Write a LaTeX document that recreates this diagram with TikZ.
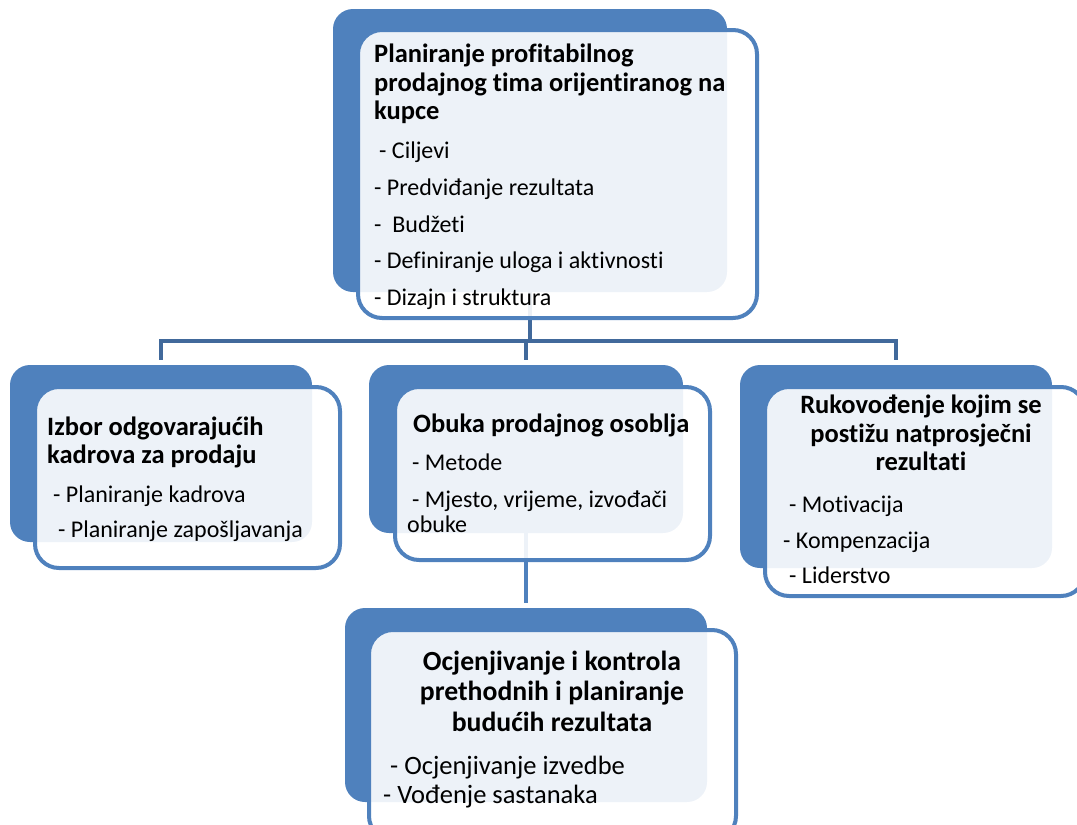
\documentclass[tikz,border=0pt]{standalone}
\usepackage{fontspec}
\setmainfont{Carlito}[Ligatures=NoCommon]
\usetikzlibrary{positioning}
\definecolor{b1}{HTML}{4F81BD}
\definecolor{b2}{HTML}{41699B}
\tikzstyle{back}=[fill=b1,rounded corners=20pt,inner sep=0pt]
\tikzstyle{front}=[draw=b1,line width=4pt,fill=white,fill opacity=0.9,rounded corners=24pt,inner sep=0pt]
\tikzstyle{link}=[b2,line width=4pt]
\tikzstyle{head}=[font=\fontsize{26.5}{30}\selectfont\bfseries,inner sep=0pt]
\tikzstyle{item}=[font=\fontsize{24}{25}\selectfont,inner sep=0pt,anchor=base west]
\tikzstyle{big head}=[head,font=\fontsize{27.7}{30}\selectfont\bfseries]
\tikzstyle{big item}=[item,font=\fontsize{26.5}{30}\selectfont]

\begin{document}
\begin{tikzpicture}[x=1pt,y=-1pt]
  \useasboundingbox (0,0) rectangle (1077,825);
  \clip (0,0) rectangle (1077,825);
  % back panels
  \node[back,minimum width=394pt,minimum height=283pt] (planB) at (530,150.5) {};
  \node[back,minimum width=302pt,minimum height=177pt] (izborB) at (161,453.5) {};
  \node[back,minimum width=314pt,minimum height=168pt] (obukaB) at (526,449) {};
  \node[back,minimum width=312pt,minimum height=203pt] (rukB) at (896,466.5) {};
  \node[back,minimum width=362pt,minimum height=194pt] (ocjB) at (526,705) {};
  % tree lines
  \coordinate (bus) at (526,341);
  \draw[link] (planB.south) -- (planB.south |- bus);
  \draw[link] ([yshift=5pt]izborB.north) |- (bus) -| ([yshift=5pt]rukB.north);
  \draw[link] ([yshift=5pt]obukaB.north) -- (obukaB.north |- bus);
  \draw[link,b1] (obukaB.south) -- ([yshift=5pt]ocjB.north);
  % front panels
  \node[front,minimum width=399pt,minimum height=288pt] (planF) at (557.5,174) {};
  \node[front,minimum width=305pt,minimum height=181pt] (izborF) at (187.5,477.5) {};
  \node[front,minimum width=315pt,minimum height=173pt] (obukaF) at (552.5,473.5) {};
  \node[front,minimum width=320pt,minimum height=209pt] (rukF) at (925,491.5) {};
  \node[front,minimum width=367pt,minimum height=210pt] (ocjF) at (552.5,735) {};
  % texts
  \node[head,anchor=base west] (plan1) at (374,62) {Planiranje profitabilnog};
  \node[head,anchor=base west] (plan2) at (374,91) {prodajnog tima orijentiranog na};
  \node[head,anchor=base west] (plan3) at (374,119) {kupce};
  \node[item] (planA) at (379,158) {- Ciljevi};
  \node[item] (planB2) at (374,195) {- Predviđanje rezultata};
  \node[item] (planC) at (374,232) {-~ Budžeti};
  \node[item] (planD) at (374,268) {- Definiranje uloga i aktivnosti};
  \node[item] (planE) at (374,305) {- Dizajn i struktura};

  \node[head,anchor=base west] (izbor1) at (47,435) {Izbor odgovarajućih};
  \node[head,anchor=base west] (izbor2) at (47,463) {kadrova za prodaju};
  \node[item] (izborA) at (53,502) {- Planiranje kadrova};
  \node[item] (izborB2) at (58,537) {- Planiranje zapošljavanja};

  \node[head,anchor=base west] (obuka1) at (413,432) {Obuka prodajnog osoblja};
  \node[item] (obukaA) at (412,470) {- Metode};
  \node[item] (obukaB2) at (412,507) {- Mjesto, vrijeme, izvođači};
  \node[item] (obukaC) at (407,532) {obuke};

  \node[head,anchor=base] (ruk1) at (921,413) {Rukovođenje kojim se};
  \node[head,anchor=base] (ruk2) at (921,442) {postižu natprosječni};
  \node[head,anchor=base] (ruk3) at (921,470) {rezultati};
  \node[item] (rukA) at (789,512) {- Motivacija};
  \node[item] (rukB2) at (783,548) {- Kompenzacija};
  \node[item] (rukC) at (789,583) {- Liderstvo};

  \node[big head,anchor=base] (ocj1) at (552,670) {Ocjenjivanje i kontrola};
  \node[big head,anchor=base] (ocj2) at (552,700) {prethodnih i planiranje};
  \node[big head,anchor=base] (ocj3) at (552,731) {budućih rezultata};
  \node[big item] (ocjA) at (390,774) {- Ocjenjivanje izvedbe};
  \node[big item] (ocjB2) at (383,803) {- Vođenje sastanaka};
\end{tikzpicture}
\end{document}
